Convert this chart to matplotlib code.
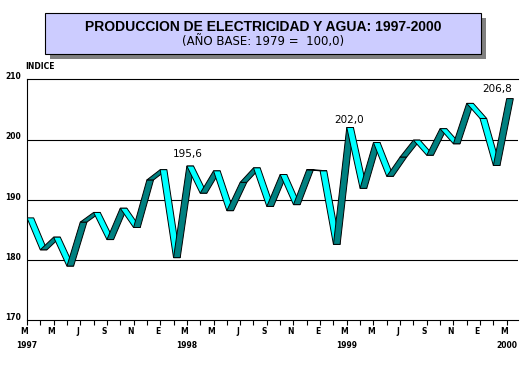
#!/usr/bin/env python3
# -*- coding: utf-8 -*-

"""
Producción de electricidad y agua 1997-2000, índice mensual (base 1979 = 100).
Ruban 3D façon tableur : segments montants en bleu canard, descendants en cyan.
Sortie : out.png
"""

import matplotlib
matplotlib.use('Agg')  # rendu sans interface graphique
import matplotlib.pyplot as plt
from matplotlib.patches import Polygon, Rectangle
from matplotlib.transforms import blended_transform_factory

# Données
indice = [187.0, 181.7, 183.8, 179.0, 186.3, 187.9, 183.4, 188.6, 185.4, 193.3,
          195.0, 180.4, 195.6, 191.1, 194.8, 188.2, 192.9, 195.3, 188.9, 194.2,
          189.2, 195.0, 194.8, 182.6, 202.0, 191.9, 199.5, 193.9, 197.1, 199.9,
          197.4, 201.8, 199.3, 206.0, 203.5, 195.7, 206.8]
mois = ["M", "M", "J", "S", "N", "E"] * 3 + ["M"]
annees = ["1997", "1998", "1999", "2000"]
y_ticks = [170, 180, 190, 200, 210]
points_etiquetes = [12, 24, 36]
etiquettes = ["195,6", "202,0", "206,8"]

titre = "PRODUCCION DE ELECTRICIDAD Y AGUA: 1997-2000"
sous_titre = "(AÑO BASE: 1979 =  100,0)"

W, H = 530, 374
fig = plt.figure(figsize=(W / 100, H / 100), dpi=100)
fig.patch.set_facecolor("white")

# Cadre du titre avec ombre portée
bx0, by0, bx1, by1 = 45, 13.3, 480.7, 54.3
fig.patches.append(Rectangle(((bx0 + 5) / W, 1 - (by1 + 5) / H), (bx1 - bx0) / W, (by1 - by0) / H,
                             transform=fig.transFigure, facecolor="#808080", edgecolor="none"))
fig.patches.append(Rectangle((bx0 / W, 1 - by1 / H), (bx1 - bx0) / W, (by1 - by0) / H,
                             transform=fig.transFigure, facecolor="#CCCCFF", edgecolor="black",
                             linewidth=0.8))
xc = (bx0 + bx1) / 2 / W
fig.text(xc, 1 - 26.7 / H, titre, ha="center", va="center", fontsize=10,
         fontweight="bold", family="Liberation Sans")
fig.text(xc, 1 - 41.7 / H, sous_titre, ha="center", va="center", fontsize=8.5,
         family="DejaVu Sans")
fig.text(25 / W, 1 - 66.7 / H, "INDICE", ha="left", va="center", fontsize=5.5,
         fontweight="bold")

# Zone de tracé
ax = fig.add_axes([26.7 / W, 1 - 320.3 / H, (518 - 26.7) / W, (320.3 - 79.3) / H])
ax.set_xlim(-0.02, 36.85)
ax.set_ylim(170, 210)

# Ruban : un parallélogramme par segment
prof = 0.5
for i in range(len(indice) - 1):
    x0, x1 = i, i + 1
    y0, y1 = indice[i], indice[i + 1]
    couleur = "#00FFFF" if y1 < y0 else "#008080"
    ax.add_patch(Polygon([(x0, y0), (x1, y1), (x1 + prof, y1), (x0 + prof, y0)],
                         closed=True, facecolor=couleur, edgecolor="black",
                         linewidth=0.7, zorder=3))

# Quadrillage et axes
for v in y_ticks[1:-1]:
    ax.axhline(v, color="black", linewidth=0.8, zorder=1)
ax.spines["right"].set_visible(False)
for s in ["left", "bottom", "top"]:
    ax.spines[s].set_linewidth(0.8)
ax.set_yticks([])
ax.set_xticks(range(len(indice)))
ax.set_xticklabels([])
ax.tick_params(axis="x", direction="out", length=3.5, width=0.8, color="black")

trans_x = blended_transform_factory(ax.transData, ax.transAxes)
trans_y = blended_transform_factory(ax.transAxes, ax.transData)
for v in y_ticks:
    ax.text(-0.012, v + 0.43, str(v), transform=trans_y, ha="right", va="center",
            fontsize=5.5, fontweight="bold")
for k, m in enumerate(mois):
    ax.text(2 * k - 0.2, -0.048, m, transform=trans_x, ha="center", va="center",
            fontsize=5.5, fontweight="bold")
for k, a in enumerate(annees):
    ax.text(12 * k, -0.1025, a, transform=trans_x, ha="center", va="center",
            fontsize=5.5, fontweight="bold")

# Étiquettes de valeurs
decalages = [(1, 11.7), (2.5, 7.3), (-10, 9.3)]
for idx, txt, (dx, dy) in zip(points_etiquetes, etiquettes, decalages):
    ax.annotate(txt, (idx, indice[idx]), xytext=(dx, dy), textcoords="offset pixels",
                ha="center", va="center", fontsize=7.5, zorder=4)

fig.savefig("out.png", dpi=100)
